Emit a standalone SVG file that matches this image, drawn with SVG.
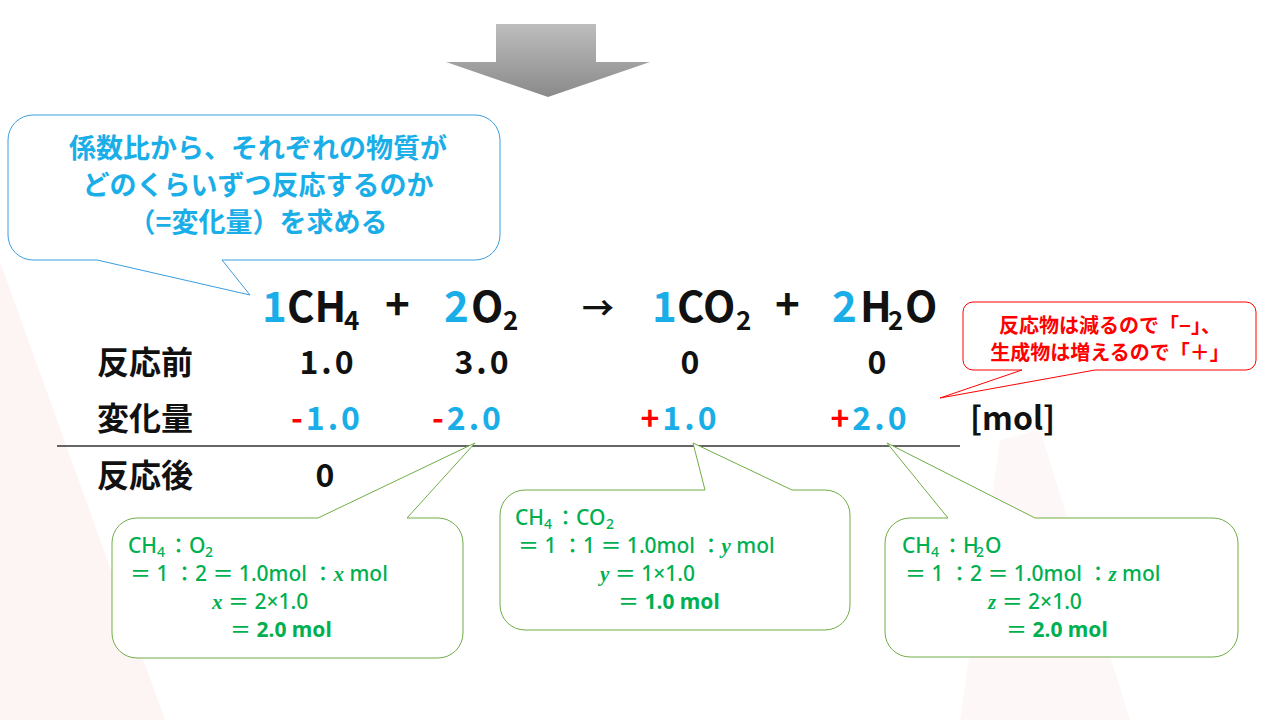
<svg xmlns="http://www.w3.org/2000/svg" width="1280" height="720" viewBox="0 0 1280 720">
<defs>
<linearGradient id="ag" x1="0" y1="0" x2="0" y2="1"><stop offset="0" stop-color="#bdbdbd"/><stop offset="1" stop-color="#8a8a8a"/></linearGradient>
<style>
text{font-family:"Noto Sans CJK JP","Noto Sans",sans-serif;font-weight:bold}
.k{fill:#111}.b{fill:#1aaee8}.r{fill:#ff0000}.g{fill:#00b050}
.eq{font-size:42px}.row{font-size:32px}
.gt{font-size:21px;font-weight:500;font-family:"Noto Sans","Noto Sans CJK JP",sans-serif}
.sub{font-size:14px;font-weight:500;font-family:"Noto Sans",sans-serif}
.i{font-family:"Liberation Serif",serif;font-style:italic;font-weight:bold}
</style>
</defs>
<rect width="1280" height="720" fill="#fff"/>
<polygon points="0,262 0,720 165,720" fill="#fdf4f4"/>
<polygon points="1000,440 1040,430 1130,720 960,720" fill="#fdf7f7"/>
<g id="arrow"><path d="M496,24H596V62H650L548,97L446,62H496Z" fill="url(#ag)"/></g>
<g id="connectors">
<line x1="57" y1="446" x2="960" y2="446" stroke="#333" stroke-width="1.5"/>
</g>
<g id="callout-blue">
<path d="M33,115H475A25,25 0 0 1 500,140V235A25,25 0 0 1 475,260H222L250,295L97,260H33A25,25 0 0 1 8,235V140A25,25 0 0 1 33,115Z" fill="#fff" stroke="#3b9ee0" stroke-width="1"/>
<text class="b" font-size="27" text-anchor="middle"><tspan x="258" y="158">係数比から、それぞれの物質が</tspan><tspan x="258" y="195">どのくらいずつ反応するのか</tspan><tspan x="258" y="232">（=変化量）を求める</tspan></text>
</g>
<g id="callout-red">
<path d="M973,302H1246A10,10 0 0 1 1256,312V360A10,10 0 0 1 1246,370H1095L940,398L1022,370H973A10,10 0 0 1 963,360V312A10,10 0 0 1 973,302Z" fill="#fff" stroke="#ff0000" stroke-width="1"/>
<text class="r" font-size="20" text-anchor="middle"><tspan x="1110" y="333">反応物は減るので「−」、</tspan><tspan x="1110" y="360">生成物は増えるので「＋」</tspan></text>
</g>
<g id="equation" class="eq">
<text x="262" y="322" class="b">1</text>
<text x="287" y="322" class="k">CH</text><text x="344" y="330" class="k" font-size="26">4</text>
<text x="385" y="320" class="k" font-weight="normal">+</text>
<text x="444" y="322" class="b">2</text>
<text x="471" y="322" class="k">O</text><text x="503" y="330" class="k" font-size="26">2</text>
<text x="582" y="320" class="k" font-size="32">→</text>
<text x="652" y="322" class="b">1</text>
<text x="677" y="322" class="k">CO</text><text x="736" y="330" class="k" font-size="26">2</text>
<text x="775" y="320" class="k" font-weight="normal">+</text>
<text x="832" y="322" class="b">2</text>
<text x="860" y="322" class="k">H</text><text x="888" y="330" class="k" font-size="26">2</text><text x="905" y="322" class="k">O</text>
</g>
<g id="table" class="row">
<text x="97" y="374" class="k">反応前</text>
<text x="328" y="374" class="k" text-anchor="middle" letter-spacing="3">1.0</text>
<text x="483" y="374" class="k" text-anchor="middle" letter-spacing="3">3.0</text>
<text x="690" y="374" class="k" text-anchor="middle">0</text>
<text x="877" y="374" class="k" text-anchor="middle">0</text>
<text x="97" y="430" class="k">変化量</text>
<text x="327" y="430" text-anchor="middle" letter-spacing="3"><tspan class="r">-</tspan><tspan class="b">1.0</tspan></text>
<text x="468" y="430" text-anchor="middle" letter-spacing="3"><tspan class="r">-</tspan><tspan class="b">2.0</tspan></text>
<text x="680" y="430" text-anchor="middle" letter-spacing="3"><tspan class="r">+</tspan><tspan class="b">1.0</tspan></text>
<text x="870" y="430" text-anchor="middle" letter-spacing="3"><tspan class="r">+</tspan><tspan class="b">2.0</tspan></text>
<text x="970" y="430" class="k" font-weight="normal">[mol]</text>
<text x="97" y="487" class="k">反応後</text>
<text x="325" y="487" class="k" text-anchor="middle">0</text>
</g>
<g id="callout-g1">
<path d="M137,518H318L475,443L407,518H438A25,25 0 0 1 463,543V633A25,25 0 0 1 438,658H137A25,25 0 0 1 112,633V543A25,25 0 0 1 137,518Z" fill="#fff" stroke="#70ad47" stroke-width="1"/>
<text class="g gt" x="128" y="553">CH</text><text class="g sub" x="157" y="557">4</text><text class="g gt" x="168" y="553">：O</text><text class="g sub" x="205" y="557">2</text>
<text class="g gt" x="130" y="581">＝ 1 ：2 ＝ 1.0mol ：<tspan class="i">x</tspan> mol</text>
<text class="g gt" x="212" y="609"><tspan class="i">x</tspan> ＝ 2×1.0</text>
<text class="g gt" x="230" y="637">＝ <tspan font-weight="bold">2.0 mol</tspan></text>
</g>
<g id="callout-g2">
<path d="M525,490H705L693,443L792,490H825A25,25 0 0 1 850,515V605A25,25 0 0 1 825,630H525A25,25 0 0 1 500,605V515A25,25 0 0 1 525,490Z" fill="#fff" stroke="#70ad47" stroke-width="1"/>
<text class="g gt" x="515" y="525">CH</text><text class="g sub" x="544" y="529">4</text><text class="g gt" x="555" y="525">：CO</text><text class="g sub" x="606" y="529">2</text>
<text class="g gt" x="518" y="553">＝ 1 ：1 ＝ 1.0mol ：<tspan class="i">y</tspan> mol</text>
<text class="g gt" x="600" y="581"><tspan class="i">y</tspan> ＝ 1×1.0</text>
<text class="g gt" x="618" y="609">＝ <tspan font-weight="bold">1.0 mol</tspan></text>
</g>
<g id="callout-g3">
<path d="M910,518H948L887,443L1035,518H1213A25,25 0 0 1 1238,543V632A25,25 0 0 1 1213,657H910A25,25 0 0 1 885,632V543A25,25 0 0 1 910,518Z" fill="#fff" stroke="#70ad47" stroke-width="1"/>
<text class="g gt" x="902" y="553">CH</text><text class="g sub" x="931" y="557">4</text><text class="g gt" x="942" y="553">：H</text><text class="g sub" x="976" y="557">2</text><text class="g gt" x="985" y="553">O</text>
<text class="g gt" x="905" y="581">＝ 1 ：2 ＝ 1.0mol ：<tspan class="i">z</tspan> mol</text>
<text class="g gt" x="988" y="609"><tspan class="i">z</tspan> ＝ 2×1.0</text>
<text class="g gt" x="1006" y="637">＝ <tspan font-weight="bold">2.0 mol</tspan></text>
</g>
</svg>
